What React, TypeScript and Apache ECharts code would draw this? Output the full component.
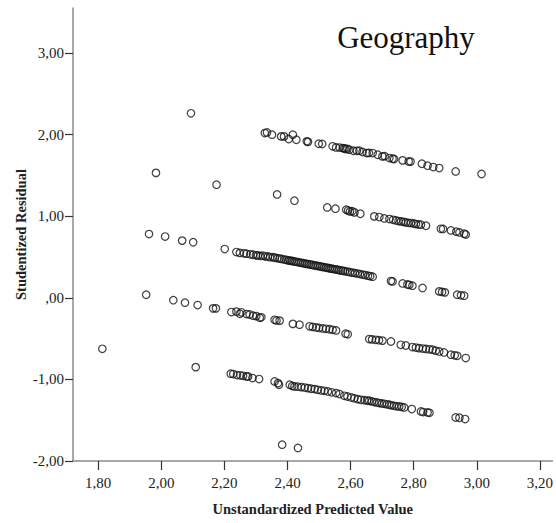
import React, { useEffect, useRef } from "react";
import * as echarts from "echarts";

const titleText = "Geography";
const xAxisTitle = "Unstandardized Predicted Value";
const yAxisTitle = "Studentized Residual";

const xTickValues = [1.8, 2.0, 2.2, 2.4, 2.6, 2.8, 3.0, 3.2];
const xTickLabels = ["1,80", "2,00", "2,20", "2,40", "2,60", "2,80", "3,00", "3,20"];
const yTickValues = [-2, -1, 0, 1, 2, 3];
const yTickLabels = ["-2,00", "-1,00", ",00", "1,00", "2,00", "3,00"];

// isolated points
const outliers: [number, number][] = [
  [2.094, 2.26], [1.983, 1.53], [2.175, 1.385], [1.961, 0.78], [2.012, 0.75],
  [2.066, 0.7], [2.101, 0.68], [1.952, 0.037], [2.038, -0.03], [2.075, -0.06],
  [2.115, -0.09], [2.164, -0.13], [2.173, -0.13], [1.813, -0.625], [2.109, -0.85],
  [2.383, -1.8], [2.433, -1.84],
];

const band1: [number, number][] = [
  [2.328, 2.018], [2.335, 2.025], [2.351, 1.998], [2.38, 1.977], [2.389, 1.977],
  [2.404, 1.945], [2.417, 1.998], [2.428, 1.936], [2.461, 1.916], [2.465, 1.91],
  [2.499, 1.887], [2.51, 1.884], [2.543, 1.855], [2.554, 1.842], [2.565, 1.84],
  [2.575, 1.834], [2.58, 1.83], [2.584, 1.822], [2.59, 1.825], [2.596, 1.814],
  [2.609, 1.801], [2.62, 1.8], [2.628, 1.801], [2.638, 1.785], [2.651, 1.773],
  [2.658, 1.775], [2.67, 1.773], [2.686, 1.752], [2.701, 1.732], [2.708, 1.735],
  [2.723, 1.712], [2.733, 1.703], [2.738, 1.7], [2.765, 1.683], [2.784, 1.67],
  [2.79, 1.668], [2.826, 1.642], [2.844, 1.618], [2.862, 1.601], [2.881, 1.589],
  [2.933, 1.548], [3.015, 1.516],
];

const band2: [number, number][] = [
  [2.367, 1.266], [2.422, 1.189], [2.526, 1.107], [2.552, 1.091], [2.586, 1.078],
  [2.592, 1.07], [2.598, 1.058], [2.605, 1.06], [2.612, 1.046], [2.631, 1.029],
  [2.675, 0.997], [2.691, 0.989], [2.707, 0.972], [2.723, 0.964], [2.735, 0.955],
  [2.744, 0.947], [2.752, 0.94], [2.76, 0.935], [2.768, 0.93], [2.775, 0.923],
  [2.783, 0.918], [2.791, 0.915], [2.8, 0.91], [2.807, 0.903], [2.815, 0.898],
  [2.823, 0.895], [2.839, 0.882], [2.886, 0.845], [2.893, 0.843], [2.918, 0.825],
  [2.935, 0.81], [2.945, 0.8], [2.96, 0.785], [2.965, 0.775],
];

const band3: [number, number][] = [
  [2.201, 0.597], [2.238, 0.56], [2.249, 0.55], [2.262, 0.545], [2.27, 0.54],
  [2.282, 0.532], [2.291, 0.527], [2.3, 0.52], [2.306, 0.518], [2.314, 0.512],
  [2.322, 0.515], [2.33, 0.505], [2.338, 0.506], [2.345, 0.497], [2.354, 0.498],
  [2.36, 0.49], [2.368, 0.485], [2.375, 0.48], [2.382, 0.475], [2.39, 0.468],
  [2.396, 0.465], [2.402, 0.458], [2.408, 0.455], [2.414, 0.452], [2.42, 0.445],
  [2.426, 0.442], [2.432, 0.437], [2.438, 0.432], [2.444, 0.428], [2.45, 0.424],
  [2.456, 0.418], [2.462, 0.415], [2.468, 0.41], [2.474, 0.405], [2.48, 0.402],
  [2.486, 0.396], [2.492, 0.392], [2.498, 0.388], [2.504, 0.383], [2.51, 0.378],
  [2.516, 0.375], [2.522, 0.37], [2.528, 0.366], [2.534, 0.36], [2.54, 0.357],
  [2.546, 0.352], [2.552, 0.348], [2.558, 0.344], [2.564, 0.338], [2.57, 0.335],
  [2.576, 0.33], [2.582, 0.326], [2.59, 0.32], [2.598, 0.313], [2.606, 0.308],
  [2.614, 0.302], [2.622, 0.296], [2.63, 0.29], [2.638, 0.284], [2.646, 0.278],
  [2.655, 0.27], [2.662, 0.265], [2.67, 0.258], [2.728, 0.205], [2.733, 0.2],
  [2.765, 0.175], [2.78, 0.163], [2.786, 0.158], [2.796, 0.148], [2.828, 0.12],
  [2.881, 0.078], [2.89, 0.072], [2.899, 0.066], [2.938, 0.038], [2.95, 0.03],
  [2.96, 0.025],
];

const band4: [number, number][] = [
  [2.222, -0.175], [2.238, -0.17], [2.249, -0.196], [2.254, -0.178], [2.27, -0.2],
  [2.28, -0.205], [2.291, -0.22], [2.301, -0.225], [2.312, -0.245], [2.317, -0.24],
  [2.359, -0.27], [2.365, -0.278], [2.375, -0.28], [2.417, -0.32], [2.438, -0.33],
  [2.47, -0.35], [2.48, -0.357], [2.491, -0.364], [2.5, -0.37], [2.512, -0.376],
  [2.522, -0.38], [2.533, -0.386], [2.543, -0.393], [2.554, -0.4], [2.584, -0.44],
  [2.591, -0.448], [2.659, -0.506], [2.668, -0.51], [2.68, -0.515], [2.69, -0.52],
  [2.701, -0.525], [2.728, -0.536], [2.759, -0.576], [2.775, -0.585], [2.796, -0.604],
  [2.807, -0.61], [2.817, -0.617], [2.829, -0.622], [2.839, -0.628], [2.85, -0.632],
  [2.86, -0.637], [2.87, -0.648], [2.881, -0.658], [2.896, -0.67], [2.918, -0.698],
  [2.93, -0.705], [2.938, -0.711], [2.965, -0.739],
];

const band5: [number, number][] = [
  [2.22, -0.93], [2.228, -0.935], [2.24, -0.947], [2.25, -0.95], [2.259, -0.956],
  [2.27, -0.964], [2.275, -0.964], [2.289, -0.984], [2.31, -0.996], [2.359, -1.026],
  [2.37, -1.046], [2.373, -1.066], [2.407, -1.066], [2.415, -1.08], [2.422, -1.087],
  [2.432, -1.09], [2.444, -1.095], [2.455, -1.1], [2.465, -1.107], [2.475, -1.115],
  [2.486, -1.119], [2.496, -1.128], [2.507, -1.136], [2.517, -1.14], [2.528, -1.148],
  [2.54, -1.158], [2.554, -1.168], [2.565, -1.18], [2.58, -1.201], [2.59, -1.21],
  [2.602, -1.222], [2.612, -1.232], [2.623, -1.242], [2.633, -1.25], [2.644, -1.255],
  [2.652, -1.26], [2.659, -1.262], [2.667, -1.27], [2.675, -1.278], [2.683, -1.283],
  [2.691, -1.29], [2.699, -1.295], [2.707, -1.299], [2.715, -1.305], [2.723, -1.311],
  [2.73, -1.318], [2.738, -1.324], [2.746, -1.33], [2.754, -1.332], [2.762, -1.338],
  [2.77, -1.344], [2.794, -1.364], [2.823, -1.393], [2.83, -1.4], [2.844, -1.405],
  [2.85, -1.41], [2.933, -1.467], [2.945, -1.47], [2.963, -1.486],
];

export default function App() {
  const ref = useRef<HTMLDivElement>(null);
  useEffect(() => {
    if (!ref.current) return;
    const chart = echarts.init(ref.current, null, { renderer: "svg" });
    const allPoints = [...outliers, ...band1, ...band2, ...band3, ...band4, ...band5];
    const xLabelMap: Record<string, string> = {};
    xTickValues.forEach((v, i) => (xLabelMap[v.toFixed(2)] = xTickLabels[i]));
    const yLabelMap: Record<string, string> = {};
    yTickValues.forEach((v, i) => (yLabelMap[v.toFixed(2)] = yTickLabels[i]));
    const font = "'Liberation Serif', 'Times New Roman', serif";
    chart.setOption({
      animation: false,
      backgroundColor: "#ffffff",
      grid: { left: 73, right: 3, top: 8, bottom: 62, containLabel: false },
      title: {
        text: titleText,
        left: 401,
        top: 17,
        textAlign: "center",
        textStyle: { fontFamily: font, fontSize: 31, fontWeight: "normal", color: "#111" },
      },
      xAxis: {
        type: "value",
        min: 1.72,
        max: 3.24,
        splitLine: { show: false },
        axisLine: { show: true, onZero: false, lineStyle: { color: "#8c8c8c", width: 1.5 } },
        axisTick: { show: true, length: 9, customValues: xTickValues, lineStyle: { color: "#333", width: 1.2 } },
        axisLabel: {
          customValues: xTickValues,
          margin: 14,
          fontFamily: font,
          fontSize: 15,
          color: "#222",
          formatter: (v: number) => xLabelMap[v.toFixed(2)] ?? "",
        },
        name: xAxisTitle,
        nameLocation: "middle",
        nameGap: 40,
        nameMoveOverlap: false,
        nameTextStyle: { fontFamily: font, fontSize: 14.5, fontWeight: "bold", color: "#222" },
      },
      yAxis: {
        type: "value",
        min: -2,
        max: 3.55,
        splitLine: { show: false },
        axisLine: { show: true, onZero: false, lineStyle: { color: "#8c8c8c", width: 1.5 } },
        axisTick: { show: true, length: 8, customValues: yTickValues, lineStyle: { color: "#333", width: 1.2 } },
        axisLabel: {
          customValues: yTickValues,
          margin: 9,
          fontFamily: font,
          fontSize: 15,
          color: "#222",
          formatter: (v: number) => yLabelMap[v.toFixed(2)] ?? "",
        },
        name: yAxisTitle,
        nameLocation: "middle",
        nameGap: 45,
        nameMoveOverlap: false,
        nameTextStyle: { fontFamily: font, fontSize: 14.5, fontWeight: "bold", color: "#222" },
      },
      series: [
        {
          type: "scatter",
          data: allPoints,
          symbol: "circle",
          symbolSize: 7.5,
          itemStyle: { color: "rgba(0,0,0,0)", borderColor: "#111", borderWidth: 1.2 },
        },
      ],
    });
    return () => chart.dispose();
  }, []);
  return (
    <div
      ref={ref}
      style={{ position: "fixed", left: 0, top: 0, width: 556, height: 523, background: "#fff" }}
    />
  );
}
